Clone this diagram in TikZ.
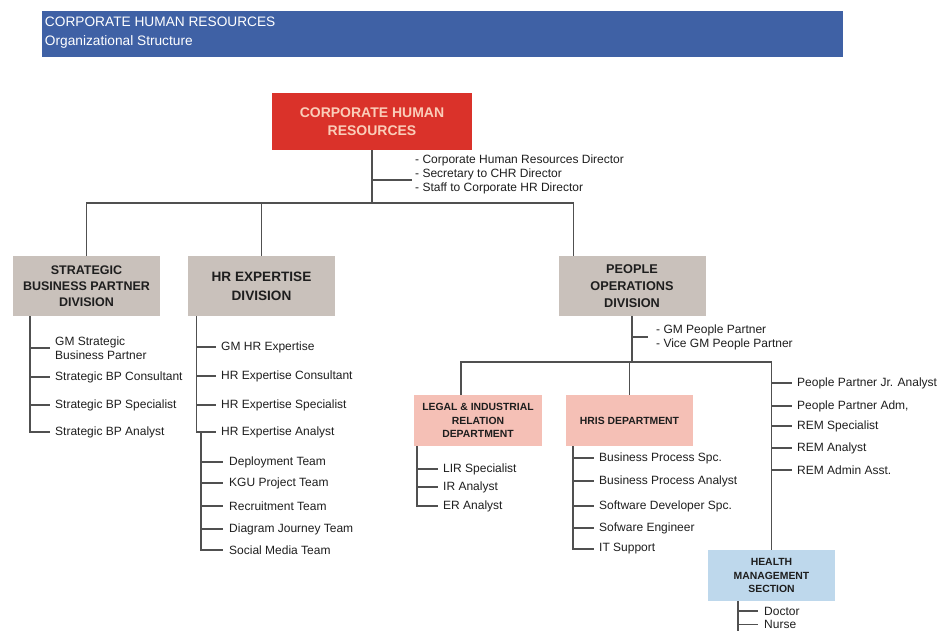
\documentclass[tikz,border=0pt]{standalone}
\usepackage{fontspec}
\setmainfont{Liberation Sans}
\usetikzlibrary{calc, shapes}

\definecolor{bannerblue}{RGB}{63,97,165}
\definecolor{hqred}{RGB}{218,50,42}
\definecolor{hqtext}{RGB}{250,205,185}
\definecolor{divgray}{RGB}{201,193,187}
\definecolor{deptpink}{RGB}{245,192,182}
\definecolor{secblue}{RGB}{190,216,236}
\definecolor{linegray}{RGB}{80,80,80}
\definecolor{txt}{RGB}{30,30,30}

\begin{document}
\begin{tikzpicture}[x=1pt, y=-1pt]
    \tikzstyle{hq} = [rectangle, fill=hqred, text=hqtext, align=center,
        minimum width=200, minimum height=57,
        font=\bfseries\fontsize{14}{18}\selectfont]
    \tikzstyle{division} = [rectangle, fill=divgray, text=txt, align=center,
        minimum width=147, minimum height=60, inner sep=1pt]
    \tikzstyle{department} = [rectangle, fill=deptpink, text=txt, align=center,
        minimum width=128, minimum height=51, inner sep=1pt,
        font=\bfseries\fontsize{10.4}{13.5}\selectfont]
    \tikzstyle{section} = [department, fill=secblue]
    \tikzstyle{item} = [anchor=west, inner xsep=5pt, inner ysep=0pt, text=txt,
        align=left, font=\fontsize{12}{14}\selectfont]
    \tikzstyle{branch} = [draw=linegray, line width=1.4pt]

    \useasboundingbox (0, 0) rectangle (938, 631);

    % Banner ---------------------------------------------
    \node (banner) at (442.5, 34) [rectangle, fill=bannerblue, minimum width=801,
        minimum height=46] {};
    \node (title) at ($(banner.north west) + (2, 11)$) [anchor=west, inner sep=1pt,
        text=white, font=\fontsize{13.7}{16}\selectfont] {CORPORATE HUMAN RESOURCES};
    \node (subtitle) at ($(title.west) + (0, 20)$) [anchor=west, inner sep=1pt,
        text=white, font=\fontsize{13.7}{16}\selectfont] {Organizational Structure};

    % Head office ----------------------------------------
    \node (CHR) at (372, 121.5) [hq] {CORPORATE HUMAN\\RESOURCES};
    \node (CHRstaff) at ($(CHR) + (40, 52.5)$) [item, inner xsep=3pt]
        {- Corporate Human Resources Director\\- Secretary to CHR Director\\- Staff to Corporate HR Director};
    \coordinate (CHRtap) at ($(CHR.south) + (0, 30)$);
    \coordinate (bar) at ($(CHR) + (0, 81.5)$);

    \draw [branch] (CHR) -- (bar);
    \draw [branch] (CHRtap) -- (CHRtap -| CHRstaff.west);

    % Divisions ------------------------------------------
    \node (SBP) at ($(CHR) + (-285.5, 164.5)$) [division,
        font=\bfseries\fontsize{12.5}{16}\selectfont] {STRATEGIC\\BUSINESS PARTNER\\DIVISION};
    \node (HRE) at ($(SBP) + (175, 0)$) [division,
        font=\bfseries\fontsize{13.6}{19}\selectfont] {HR EXPERTISE\\DIVISION};
    \node (POD) at ($(HRE) + (370.5, 0)$) [division,
        font=\bfseries\fontsize{12.7}{17}\selectfont] {PEOPLE\\OPERATIONS\\DIVISION};
    \coordinate (PODin) at ($(POD.north west) + (15, 0)$);

    \draw [branch] (SBP) |- (bar);
    \draw [branch] (PODin) |- (bar);
    \draw [branch] (HRE) -- (HRE |- bar);

    % Strategic business partner -------------------------
    \coordinate (SBs) at ($(SBP.south west) + (17, 0)$);
    \node (SB1) at (50, 348) [item] {GM Strategic\\Business Partner};
    \node (SB2) at ($(SB1.west) + (0, 29)$) [item] {Strategic BP Consultant};
    \node (SB3) at ($(SB2.west) + (0, 28)$) [item] {Strategic BP Specialist};
    \node (SB4) at ($(SB3.west) + (0, 27)$) [item] {Strategic BP Analyst};

    \draw [branch] (SBs) |- (SB4);
    \draw [branch] (SBs |- SB1) -- (SB1);
    \draw [branch] (SBs |- SB2) -- (SB2);
    \draw [branch] (SBs |- SB3) -- (SB3);

    % HR expertise ---------------------------------------
    \coordinate (HEs) at ($(HRE.south west) + (8.5, 0)$);
    \node (HE1) at (216, 347) [item] {GM HR Expertise};
    \node (HE2) at ($(HE1.west) + (0, 29)$) [item] {HR Expertise Consultant};
    \node (HE3) at ($(HE2.west) + (0, 29)$) [item] {HR Expertise Specialist};
    \node (HE4) at ($(HE3.west) + (0, 27)$) [item] {HR Expertise Analyst};

    \draw [branch] (HEs) |- (HE4);
    \draw [branch] (HEs |- HE1) -- (HE1);
    \draw [branch] (HEs |- HE2) -- (HE2);
    \draw [branch] (HEs |- HE3) -- (HE3);

    %% teams
    \coordinate (TMs) at ($(HEs |- HE4) + (4.5, 0)$);
    \node (TM1) at (223, 462) [item, inner xsep=6pt] {Deployment Team};
    \node (TM2) at ($(TM1.west) + (0, 21)$) [item, inner xsep=6pt] {KGU Project Team};
    \node (TM3) at ($(TM2.west) + (0, 23)$) [item, inner xsep=6pt] {Recruitment Team};
    \node (TM4) at ($(TM3.west) + (0, 23)$) [item, inner xsep=6pt] {Diagram Journey Team};
    \node (TM5) at ($(TM4.west) + (0, 21)$) [item, inner xsep=6pt] {Social Media Team};

    \draw [branch] (TMs) |- (TM5);
    \draw [branch] (TMs |- TM1) -- (TM1);
    \draw [branch] (TMs |- TM2) -- (TM2);
    \draw [branch] (TMs |- TM3) -- (TM3);
    \draw [branch] (TMs |- TM4) -- (TM4);

    % People operations ----------------------------------
    \node (PODstaff) at ($(POD) + (16, 51)$) [item, inner xsep=8pt]
        {- GM People Partner\\- Vice GM People Partner};
    \coordinate (bar2) at ($(POD) + (0, 76)$);

    \draw [branch] (POD) -- (bar2);
    \draw [branch] (POD |- PODstaff) -- (PODstaff);

    \node (LIR) at (478, 420.5) [department] {LEGAL \& INDUSTRIAL\\RELATION\\DEPARTMENT};
    \node (HRIS) at ($(LIR) + (151.5, 0)$) [department, minimum width=127] {HRIS DEPARTMENT};
    \node (HMS) at ($(HRIS) + (142, 155)$) [section, minimum width=127] {HEALTH\\MANAGEMENT\\SECTION};
    \coordinate (LIRin) at ($(LIR.north west) + (47, 0)$);

    \draw [branch] (LIRin) |- (bar2);
    \draw [branch] (HRIS) -- (HRIS |- bar2);
    \draw [branch] (HMS) |- (bar2);

    %% people partner staff
    \node (PP1) at (792, 383) [item] {People Partner Jr. Analyst};
    \node (PP2) at ($(PP1.west) + (0, 23)$) [item] {People Partner Adm,};
    \node (PP3) at ($(PP2.west) + (0, 20)$) [item] {REM Specialist};
    \node (PP4) at ($(PP3.west) + (0, 22)$) [item] {REM Analyst};
    \node (PP5) at ($(PP4.west) + (0, 22)$) [item] {REM Admin Asst.};

    \draw [branch] (HMS |- PP1) -- (PP1);
    \draw [branch] (HMS |- PP2) -- (PP2);
    \draw [branch] (HMS |- PP3) -- (PP3);
    \draw [branch] (HMS |- PP4) -- (PP4);
    \draw [branch] (HMS |- PP5) -- (PP5);

    %% legal & industrial relation
    \coordinate (LRs) at ($(LIR.south west) + (3, 0)$);
    \node (LR1) at (438, 469) [item] {LIR Specialist};
    \node (LR2) at ($(LR1.west) + (0, 18)$) [item] {IR Analyst};
    \node (LR3) at ($(LR2.west) + (0, 19)$) [item] {ER Analyst};

    \draw [branch] (LRs) |- (LR3);
    \draw [branch] (LRs |- LR1) -- (LR1);
    \draw [branch] (LRs |- LR2) -- (LR2);

    %% hris
    \coordinate (HSs) at ($(HRIS.south west) + (7, 0)$);
    \node (HS1) at (594, 458) [item] {Business Process Spc.};
    \node (HS2) at ($(HS1.west) + (0, 23)$) [item] {Business Process Analyst};
    \node (HS3) at ($(HS2.west) + (0, 25)$) [item] {Software Developer Spc.};
    \node (HS4) at ($(HS3.west) + (0, 22)$) [item] {Sofware Engineer};
    \node (HS5) at ($(HS4.west) + (0, 21)$) [item] {IT Support};

    \draw [branch] (HSs) |- (HS5);
    \draw [branch] (HSs |- HS1) -- (HS1);
    \draw [branch] (HSs |- HS2) -- (HS2);
    \draw [branch] (HSs |- HS3) -- (HS3);
    \draw [branch] (HSs |- HS4) -- (HS4);

    %% health management
    \coordinate (HMs) at ($(HMS.south west) + (30, 0)$);
    \node (HM1) at (758, 611) [item, inner xsep=6pt] {Doctor};
    \node (HM2) at ($(HM1.west) + (0, 13.5)$) [item, inner xsep=6pt] {Nurse};

    \draw [branch] (HMs) -- (HMs |- 0, 631);
    \draw [branch] (HMs |- HM1) -- (HM1);
    \draw [branch] (HMs |- HM2) -- (HM2);
\end{tikzpicture}
\end{document}
